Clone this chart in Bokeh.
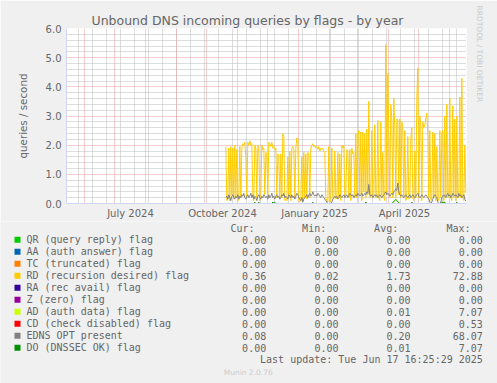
import datetime as dt
from bokeh.plotting import figure
from bokeh.models import (Range1d, FixedTicker, Grid, Title,
                          DatetimeTickFormatter, PrintfTickFormatter)
from bokeh.layouts import column
from bokeh.embed import file_html
from bokeh.resources import INLINE
from bokeh.core.properties import value

# ---------------- data ----------------
TITLE = "Unbound DNS incoming queries by flags - by year"
Y_LABEL = "queries / second"
START = dt.datetime(2024, 10, 20)       # first day with data
N_DAYS = 241                            # up to 2025-06-17

RD = [1.95, 0.10, 0.15, 1.90, 0.10, 1.95, 0.30, 1.90, 0.15, 2.00,
      0.20, 1.85, 0.10, 0.12, 1.95, 0.20, 1.95, 2.05, 2.00, 2.10,
      1.60, 0.20, 2.10, 2.00, 2.15, 2.00, 2.05, 0.30, 0.10, 2.00,
      1.90, 0.20, 2.00, 1.95, 0.10, 0.20, 2.00, 1.85, 1.90, 0.30,
      1.75, 1.70, 0.20, 2.10, 2.05, 1.95, 2.10, 1.90, 1.95, 1.85,
      1.90, 0.20, 1.70, 1.65, 0.15, 1.70, 0.20, 2.40, 2.30, 0.10,
      0.15, 0.10, 1.60, 0.20, 1.80, 0.10, 1.90, 1.95, 1.85, 0.20,
      1.90, 2.25, 2.20, 0.10, 0.05, 0.10, 1.60, 0.10, 1.75, 0.20,
      1.70, 0.15, 1.75, 1.70, 0.20, 1.90, 2.00, 2.05, 1.95, 2.00,
      1.90, 1.95, 1.85, 1.95, 1.80, 1.90, 1.85, 1.90, 1.80, 1.75,
      0.20, 0.10, 0.05, 1.95, 0.05, 0.10, 1.90, 0.20, 0.15, 1.80,
      0.15, 0.20, 1.75, 0.20, 1.70, 0.10, 2.00, 1.90, 2.00, 0.20,
      0.30, 1.85, 1.80, 0.20, 1.85, 0.10, 1.90, 1.70, 1.75, 0.20,
      2.40, 0.20, 2.35, 2.50, 0.30, 2.45, 0.10, 2.45, 0.40, 2.40,
      0.20, 2.55, 0.30, 3.50, 0.20, 0.30, 2.50, 0.20, 0.30, 2.70,
      0.20, 0.30, 2.85, 0.20, 0.10, 2.80, 0.20, 1.75, 0.20, 0.10,
      5.45, 0.30, 4.45, 2.40, 0.20, 3.40, 2.90, 0.20, 3.60, 2.50,
      0.20, 2.90, 2.85, 0.30, 2.90, 0.20, 2.80, 2.60, 0.20, 2.50,
      0.10, 0.20, 2.30, 0.15, 0.20, 2.20, 2.60, 0.20, 0.10, 1.80,
      0.20, 3.60, 4.65, 0.20, 3.00, 2.70, 0.10, 2.80, 2.60, 2.70,
      2.90, 3.10, 2.40, 0.20, 2.50, 0.10, 0.20, 2.45, 0.20, 2.40,
      0.10, 1.95, 0.20, 0.10, 2.50, 0.20, 2.40, 2.50, 0.10, 3.00,
      0.20, 3.40, 0.20, 0.30, 3.60, 0.20, 0.10, 3.35, 0.20, 2.90,
      0.10, 3.00, 0.20, 0.30, 3.65, 0.20, 4.30, 0.20, 0.10, 2.00, 0.36]

EDNS = [0.20, 0.25, 0.15, 0.30, 0.20, 0.10, 0.25, 0.30, 0.20, 0.15,
        0.25, 0.20, 0.30, 0.15, 0.25, 0.20, 0.30, 0.25, 0.35, 0.20,
        0.15, 0.25, 0.30, 0.20, 0.25, 0.35, 0.20, 0.30, 0.15, 0.25,
        0.20, 0.10, 0.25, 0.30, 0.20, 0.15, 0.25, 0.20, 0.30, 0.25,
        0.20, 0.25, 0.15, 0.30, 0.20, 0.25, 0.35, 0.20, 0.25, 0.15,
        0.25, 0.30, 0.20, 0.25, 0.15, 0.20, 0.30, 0.25, 0.35, 0.20,
        0.25, 0.20, 0.15, 0.30, 0.25, 0.20, 0.30, 0.20, 0.25, 0.15,
        0.25, 0.35, 0.30, 0.20, 0.15, 0.10, 0.20, 0.05, 0.15, 0.20,
        0.25, 0.30, 0.20, 0.30, 0.35, 0.25, 0.30, 0.40, 0.30, 0.25,
        0.30, 0.25, 0.35, 0.30, 0.25, 0.20, 0.30, 0.25, 0.20, 0.15,
        0.10, 0.05, 0.00, 0.00, 0.00, 0.00, 0.05, 0.15, 0.20, 0.25,
        0.20, 0.25, 0.15, 0.20, 0.30, 0.25, 0.20, 0.25, 0.30, 0.20,
        0.25, 0.30, 0.20, 0.25, 0.35, 0.30, 0.25, 0.30, 0.20, 0.25,
        0.30, 0.25, 0.35, 0.30, 0.25, 0.30, 0.35, 0.25, 0.30, 0.35,
        0.30, 0.40, 0.35, 0.65, 0.30, 0.25, 0.30, 0.20, 0.25, 0.30,
        0.25, 0.30, 0.20, 0.25, 0.30, 0.25, 0.20, 0.25, 0.30, 0.35,
        0.40, 0.30, 0.35, 0.30, 0.25, 0.30, 0.35, 0.30, 0.40, 0.45,
        0.50, 0.45, 0.70, 0.40, 0.30, 0.25, 0.30, 0.25, 0.20, 0.25,
        0.30, 0.25, 0.20, 0.25, 0.30, 0.20, 0.25, 0.30, 0.25, 0.20,
        0.25, 0.30, 0.35, 0.25, 0.20, 0.25, 0.30, 0.25, 0.20, 0.25,
        0.30, 0.25, 0.20, 0.15, 0.05, 0.00, 0.05, 0.15, 0.25, 0.30,
        0.25, 0.20, 0.05, 0.00, 0.00, 0.05, 0.20, 0.25, 0.30, 0.25,
        0.20, 0.30, 0.35, 0.25, 0.30, 0.20, 0.25, 0.35, 0.30, 0.25,
        0.30, 0.25, 0.20, 0.35, 0.25, 0.30, 0.20, 0.25, 0.30, 0.15, 0.08]

# DNSSEC OK / auth data: zero except these days (day index -> value)
DO_BUMPS = {29: 0.04, 33: 0.04, 47: 0.05, 49: 0.04, 87: 0.04, 140: 0.05,
            167: 0.03, 168: 0.06, 169: 0.10, 170: 0.14, 171: 0.10, 172: 0.06,
            173: 0.03, 186: 0.04, 216: 0.04, 217: 0.04, 218: 0.04, 219: 0.04,
            231: 0.04}

SERIES_NAMES = ["QR (query reply) flag", "AA (auth answer) flag", "TC (truncated) flag",
                "RD (recursion desired) flag", "RA (rec avail) flag", "Z (zero) flag",
                "AD (auth data) flag", "CD (check disabled) flag", "EDNS OPT present",
                "DO (DNSSEC OK) flag"]
SERIES_COLORS = ["#00CC00", "#0066B3", "#FF8000", "#FFCC00", "#330099", "#990099",
                 "#CCFF00", "#FF0000", "#808080", "#008F00"]
CUR = ["0.00", "0.00", "0.00", "0.36", "0.00", "0.00", "0.00", "0.00", "0.08", "0.00"]
MIN = ["0.00", "0.00", "0.00", "0.02", "0.00", "0.00", "0.00", "0.00", "0.00", "0.00"]
AVG = ["0.00", "0.00", "0.00", "1.73", "0.00", "0.00", "0.01", "0.00", "0.20", "0.01"]
MAX = ["0.00", "0.00", "0.00", "72.88", "0.00", "0.00", "7.07", "0.53", "68.07", "7.07"]
LAST_UPDATE = "Last update: Tue Jun 17 16:25:29 2025"
MUNIN = "Munin 2.0.76"
RRD = "RRDTOOL / TOBI OETIKER"

X_START = dt.datetime(2024, 5, 13, 16, 25)
X_END = dt.datetime(2025, 6, 17, 16, 25)
Y_TICKS = [0, 1, 2, 3, 4, 5, 6]
X_LABEL_DATES = [dt.datetime(2024, 7, 16, 16), dt.datetime(2024, 10, 16, 16),
                 dt.datetime(2025, 1, 16, 16), dt.datetime(2025, 4, 16, 16)]
MONTH_STARTS = ([dt.datetime(2024, m, 1) for m in range(6, 13)] +
                [dt.datetime(2025, m, 1) for m in range(1, 7)])
FIRST_WEEK_LINE = dt.datetime(2024, 5, 26)

# ---------------- helpers ----------------
EPOCH = dt.datetime(1970, 1, 1)
def ms(d):
    return (d - EPOCH).total_seconds() * 1000.0

dates = [START + dt.timedelta(days=i) for i in range(N_DAYS)]
do_vals = [DO_BUMPS.get(i, 0.0) for i in range(N_DAYS)]
zero_vals = [0.0 for _ in range(N_DAYS)]
series_vals = [zero_vals, zero_vals, zero_vals, RD, zero_vals, zero_vals,
               do_vals, zero_vals, EDNS, do_vals]

week_lines = []
d = FIRST_WEEK_LINE
while d < X_END:
    week_lines.append(ms(d))
    d += dt.timedelta(days=14)

FONT = "DejaVu Sans"
MONO = "DejaVu Sans Mono"
TXT = "#666666"
BG = "#F0F0F0"
AXIS = "#CFD6F8"
W = 497
H1 = 221
H2 = 383 - H1

# ---------------- chart ----------------
p = figure(width=W, height=H1, x_axis_type="datetime",
           x_range=Range1d(X_START, X_END), y_range=Range1d(0, 6),
           output_backend="svg", toolbar_location=None,
           min_border_left=66, min_border_right=31, min_border_top=28, min_border_bottom=18)
p.frame_align = False
p.background_fill_color = "white"
p.border_fill_color = BG
p.outline_line_color = None
p.grid.visible = False

minor_y = [i / 5 for i in range(31) if i % 5 != 0]
p.add_layout(Grid(dimension=1, ticker=FixedTicker(ticks=minor_y),
                  grid_line_color="#BBBBBB", grid_line_dash="1 1"))
p.add_layout(Grid(dimension=0, ticker=FixedTicker(ticks=week_lines),
                  grid_line_color="#BBBBBB", grid_line_dash="1 1"))
p.add_layout(Grid(dimension=1, ticker=FixedTicker(ticks=Y_TICKS),
                  grid_line_color="#EE9C9C", grid_line_dash="1 1"))
p.add_layout(Grid(dimension=0, ticker=FixedTicker(ticks=[ms(m) for m in MONTH_STARTS]),
                  grid_line_color="#EE9C9C", grid_line_dash="1 1"))

for vals, col in zip(series_vals, SERIES_COLORS):
    p.line(dates, vals, line_color=col, line_width=1)

# axes
p.yaxis.ticker = FixedTicker(ticks=Y_TICKS)
p.yaxis.formatter = PrintfTickFormatter(format="%.1f")
p.xaxis.ticker = FixedTicker(ticks=[ms(x) for x in X_LABEL_DATES])
fmt = "%B %Y"
p.xaxis.formatter = DatetimeTickFormatter(microseconds=fmt, milliseconds=fmt, seconds=fmt,
                                          minsec=fmt, minutes=fmt, hourmin=fmt, hours=fmt,
                                          days=fmt, months=fmt, years=fmt)
for ax in (p.xaxis[0], p.yaxis[0]):
    ax.axis_line_color = AXIS
    ax.major_tick_line_color = None
    ax.minor_tick_line_color = None
    ax.major_tick_out = 0
    ax.major_tick_in = 0
    ax.major_label_text_font = FONT
    ax.major_label_text_font_size = "10px"
    ax.major_label_text_color = TXT
p.xaxis.major_label_standoff = 4
p.yaxis.major_label_standoff = 5

# titles in the side panels
p.add_layout(Title(text=TITLE, align="left", offset=25, standoff=1,
                   text_font=FONT, text_font_size="12.5px", text_font_style="normal",
                   text_color=TXT), "above")
p.add_layout(Title(text=Y_LABEL, align="center", offset=-5.5, standoff=27,
                   text_font=FONT, text_font_size="10.3px", text_font_style="normal",
                   text_color=TXT), "left")
p.add_layout(Title(text=RRD, align="left", offset=-23, standoff=17,
                   text_font=FONT, text_font_size="7.5px", text_font_style="normal",
                   text_color="#C8C8C8"), "right")

# ---------------- legend panel (pixel coordinates) ----------------
q = figure(width=W, height=H2, x_range=Range1d(0, W), y_range=Range1d(H2, 0),
           output_backend="svg", toolbar_location=None, min_border=0,
           x_axis_location=None, y_axis_location=None)
q.frame_align = False
q.grid.visible = False
q.outline_line_color = None
q.background_fill_color = BG
q.border_fill_color = BG

row_y = [18.3 + 12 * i for i in range(len(SERIES_NAMES))]
q.rect(x=[17] * len(row_y), y=row_y, width=6, height=6,
       fill_color=SERIES_COLORS, line_color=None)
q.text(x=[26] * len(row_y), y=row_y, text=SERIES_NAMES, text_font=value(MONO),
       text_font_size="10px", text_color=TXT, text_baseline="middle", text_align="left")
for xs, vals, head, hx in ((265.7, CUR, "Cur:", 254), (338, MIN, "Min:", 325.7),
                           (410, AVG, "Avg:", 397.7), (482.3, MAX, "Max:", 470)):
    q.text(x=[xs] * len(vals), y=row_y, text=vals, text_font=value(MONO),
           text_font_size="10px", text_color=TXT, text_baseline="middle", text_align="right")
    q.text(x=[hx], y=[6.7], text=[head], text_font=value(MONO),
           text_font_size="10px", text_color=TXT, text_baseline="middle", text_align="right")
q.text(x=[482.3], y=[138.3], text=[LAST_UPDATE], text_font=value(MONO),
       text_font_size="10px", text_color=TXT, text_baseline="middle", text_align="right")
q.text(x=[247.7], y=[151], text=[MUNIN], text_font=value(FONT),
       text_font_size="7.5px", text_color="#CCCCCC", text_baseline="middle", text_align="center")

layout = column(p, q, spacing=0)
html = file_html(layout, INLINE)
html = html.replace("<body>", '<body style="background:#F0F0F0">', 1)
open("out.html", "w").write(html)
